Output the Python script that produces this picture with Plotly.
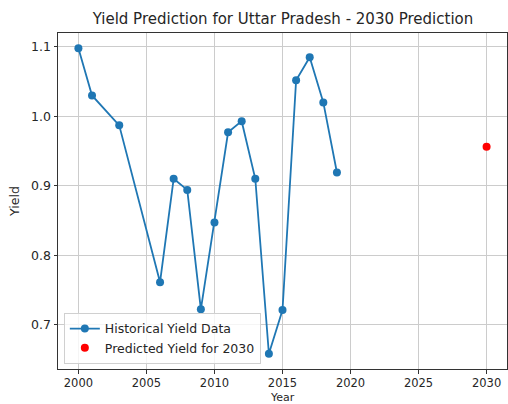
import plotly.graph_objects as go

years = [2000, 2001, 2003, 2006, 2007, 2008, 2009, 2010, 2011, 2012, 2013, 2014, 2015, 2016, 2017, 2018, 2019]
yields = [1.098, 1.030, 0.987, 0.761, 0.910, 0.894, 0.722, 0.847, 0.977, 0.993, 0.910, 0.658, 0.721, 1.052, 1.085, 1.020, 0.919]
pred_year = [2030]
pred_yield = [0.956]
x_ticks = [2000, 2005, 2010, 2015, 2020, 2025, 2030]
y_ticks = [0.7, 0.8, 0.9, 1.0, 1.1]

BLUE = "#1f77b4"
FONT = "DejaVu Sans"

fig = go.Figure()
fig.add_trace(go.Scatter(
    x=years, y=yields, mode="lines+markers", name="Historical Yield Data",
    line=dict(color=BLUE, width=1.8),
    marker=dict(color=BLUE, size=8),
))
fig.add_trace(go.Scatter(
    x=pred_year, y=pred_yield, mode="markers", name="Predicted Yield for 2030",
    marker=dict(color="red", size=8),
))

axis_common = dict(
    showgrid=True, gridcolor="#cccccc", gridwidth=1,
    showline=True, linecolor="#333333", linewidth=1, mirror=True,
    ticks="outside", ticklen=3.5, tickcolor="#333333", tickwidth=1,
    tickfont=dict(family=FONT, size=12.5, color="#262626"),
    zeroline=False, automargin=False,
)

fig.update_layout(
    width=508, height=404,
    margin=dict(l=58, r=1, t=33, b=35),
    paper_bgcolor="white", plot_bgcolor="white",
    font=dict(family=FONT, size=12.5, color="#262626"),
    title=dict(text="Yield Prediction for Uttar Pradesh - 2030 Prediction",
               x=0.557, xanchor="center", y=0.953, yanchor="middle",
               font=dict(family=FONT, size=15, color="#262626")),
    showlegend=True,
    legend=dict(x=0.013, y=0.015, xanchor="left", yanchor="bottom",
                bgcolor="rgba(255,255,255,0.8)", bordercolor="#d0d0d0", borderwidth=1,
                font=dict(family=FONT, size=12.5, color="#262626"),
                tracegroupgap=0, itemwidth=30),
    annotations=[dict(text="Year", xref="paper", yref="paper", x=0.5, y=-0.1042,
                      xanchor="center", yanchor="bottom", showarrow=False,
                      yshift=-1, borderpad=0,
                      font=dict(family=FONT, size=11, color="#262626"))],
)
fig.update_xaxes(range=[1998.5, 2031.5], tickvals=x_ticks, **axis_common)
fig.update_xaxes(tickfont=dict(family=FONT, size=11.5, color="#262626"))
fig.update_yaxes(range=[0.636, 1.12], tickvals=y_ticks, ticktext=["0.7", "0.8", "0.9", "1.0", "1.1"],
                 title=dict(text="Yield", standoff=8, font=dict(family=FONT, size=12.5)), **axis_common)

fig.write_html("out.html")
